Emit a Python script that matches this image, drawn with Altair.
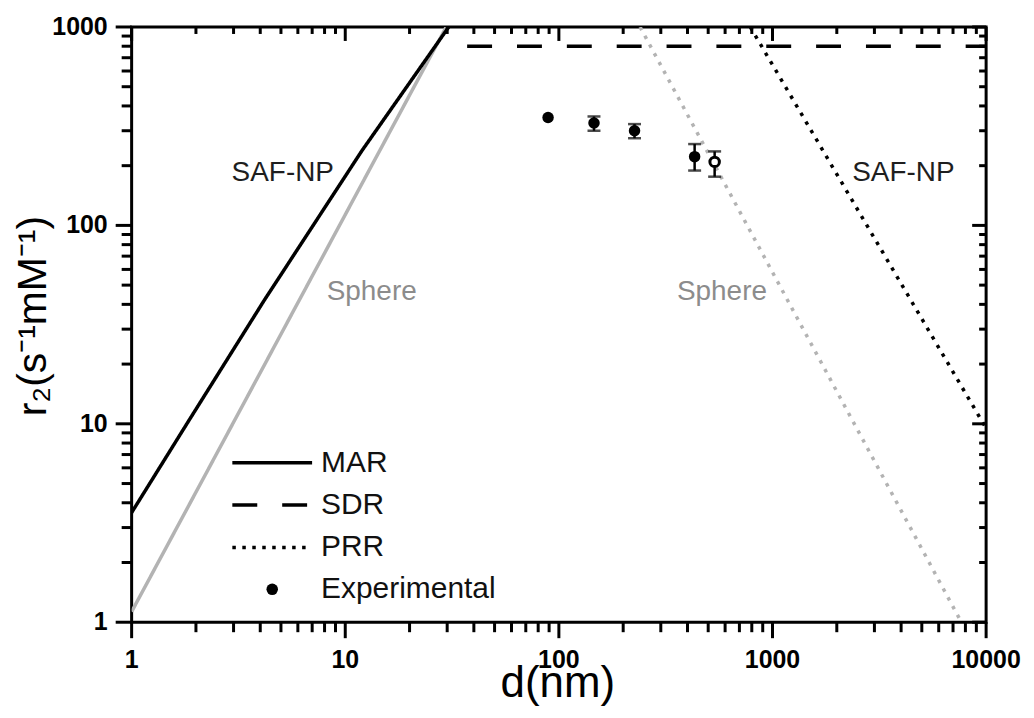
import altair as alt
import pandas as pd

FONT = "Liberation Sans"

# ---- model curves ----
mar_saf_x = [1, 1.865, 4.18, 11.97, 30.5]
mar_saf_y = [3.57, 10.5, 42, 238, 1000]
mar_sph_x = [1, 29.7]
mar_sph_y = [1.13, 1000]
sdr_x = [37.2, 10000]
sdr_y = [800, 800]
prr_sph_x = [240, 7660]
prr_sph_y = [1000, 1]
prr_saf_x = [787, 10000]
prr_saf_y = [1000, 9.5]

# ---- experimental points ----
exp_x = [89, 146, 226, 432]
exp_y = [350, 328, 300, 222]
exp_lo = [350, 300, 275, 189]
exp_hi = [350, 354, 324, 257]
open_x = [536]
open_y = [209]
open_lo = [176]
open_hi = [236]

# ---- annotations ----
ann_text = ["SAF-NP", "Sphere", "Sphere", "SAF-NP"]
ann_x = [5.1, 13.3, 580, 4100]
ann_y = [168, 42, 42, 168]
ann_tone = ["dark", "light", "light", "dark"]

# ---- axis ticks and labels ----
x_major = [1, 10, 100, 1000, 10000]
x_labels = ["1", "10", "100", "1000", "10000"]
y_major = [1, 10, 100, 1000]
y_labels = ["1", "10", "100", "1000"]
x_minor = [m * 10 ** k for k in range(4) for m in range(2, 10)]
y_minor = [m * 10 ** k for k in range(3) for m in range(2, 10)]
x_title = "d(nm)"
y_title = "r₂(s⁻¹mM⁻¹)"

models = ["MAR", "SDR", "PRR"]
dashes = [[1, 0], [25, 25], [3.5, 6.5]]

W, H = 857, 597
X_DEC, Y_DEC = 4, 3
X_MIN, X_MAX, Y_MIN, Y_MAX = 1, 10000, 1, 1000

rows = []
for name, model, tone, xs_, ys_ in [
    ("mar_sph", "MAR", "light", mar_sph_x, mar_sph_y),
    ("mar_saf", "MAR", "dark", mar_saf_x, mar_saf_y),
    ("sdr", "SDR", "dark", sdr_x, sdr_y),
    ("prr_sph", "PRR", "light", prr_sph_x, prr_sph_y),
    ("prr_saf", "PRR", "dark", prr_saf_x, prr_saf_y),
]:
    for i, (xv, yv) in enumerate(zip(xs_, ys_)):
        rows.append({"series": name, "model": model, "tone": tone, "x": xv, "y": yv, "o": i})
lines_df = pd.DataFrame(rows)

err_df = pd.DataFrame({
    "x": exp_x + open_x,
    "y": exp_y + open_y,
    "lo": exp_lo + open_lo,
    "hi": exp_hi + open_hi,
})
pts_df = pd.DataFrame({"x": exp_x, "y": exp_y, "src": ["Experimental"] * len(exp_x)})
open_df = pd.DataFrame({"x": open_x, "y": open_y})
ann_df = pd.DataFrame({"t": ann_text, "x": ann_x, "y": ann_y, "tone": ann_tone})

# all frame ticks in one table: each row is a short segment from the frame edge
tick_rows = []
for vals, edge, px in [(x_major, Y_MIN, 16), (x_minor, Y_MIN, 10), (x_major, Y_MAX, 14), (x_minor, Y_MAX, 7)]:
    f = 10 ** (px * Y_DEC / H)
    for v in vals:
        tick_rows.append({"tx": v, "tx2": v, "ty": edge, "ty2": edge / f})
for vals, edge, px in [(y_major, X_MIN, 16), (y_minor, X_MIN, 10), (y_major, X_MAX, 14), (y_minor, X_MAX, 7)]:
    f = 10 ** (px * X_DEC / W)
    for v in vals:
        tick_rows.append({"tx": edge, "tx2": edge / f, "ty": v, "ty2": v})
ticks_df = pd.DataFrame(tick_rows)

xs = alt.Scale(type="log", domain=[X_MIN, X_MAX], nice=False)
ys = alt.Scale(type="log", domain=[Y_MIN, Y_MAX], nice=False)


def X(field):
    return alt.X(field, type="quantitative", scale=xs, axis=None)


def Y(field):
    return alt.Y(field, type="quantitative", scale=ys, axis=None)


lines = alt.Chart(lines_df).mark_line(clip=True, strokeWidth=3.5).encode(
    x=X("x"),
    y=Y("y"),
    detail="series:N",
    order="o:Q",
    color=alt.Color("tone:N", scale=alt.Scale(domain=["dark", "light"], range=["#000000", "#b3b3b3"]), legend=None),
    strokeDash=alt.StrokeDash("model:N", scale=alt.Scale(domain=models, range=dashes),
                              legend=alt.Legend(orient="none", legendX=99, legendY=421, title=None,
                                                symbolType="stroke", symbolSize=6400,
                                                symbolStrokeWidth=3.5, symbolStrokeColor="black",
                                                clipHeight=32, rowPadding=10.5, labelFont=FONT,
                                                labelFontSize=30, labelColor="#111111",
                                                labelOffset=7, labelLimit=0, padding=0)),
)

ticks = alt.Chart(ticks_df).mark_rule(color="black", strokeWidth=3, strokeCap="butt").encode(
    x=X("tx"), x2="tx2:Q", y=Y("ty"), y2="ty2:Q")

x_lab = alt.Chart(pd.DataFrame({"x": x_major, "t": x_labels})).mark_text(
    font=FONT, fontSize=25, fontWeight="bold", color="black", align="center",
    baseline="alphabetic").encode(x=X("x"), y=alt.value(H + 46), text="t:N")
y_lab = alt.Chart(pd.DataFrame({"y": y_major, "t": y_labels})).mark_text(
    font=FONT, fontSize=25, fontWeight="bold", color="black", align="right",
    baseline="middle").encode(y=Y("y"), x=alt.value(-24), text="t:N")
x_tit = alt.Chart(pd.DataFrame({"t": [x_title]})).mark_text(
    font=FONT, fontSize=44, color="black", align="center", baseline="alphabetic").encode(
    x=alt.value(W / 2 - 1), y=alt.value(H + 75), text="t:N")
y_tit = alt.Chart(pd.DataFrame({"t": [y_title]})).mark_text(
    font=FONT, fontSize=41, color="black", align="center", baseline="alphabetic", angle=270).encode(
    x=alt.value(-86), y=alt.value(290), text="t:N")

err_base = alt.Chart(err_df).transform_filter("datum.lo < datum.hi")
err_rule = err_base.mark_rule(color="black", strokeWidth=2.5).encode(
    x=X("x"), y=Y("lo"), y2="hi:Q",
)
cap_lo = err_base.mark_tick(color="black", orient="horizontal", size=13, thickness=2.5).encode(
    x=X("x"), y=Y("lo"),
)
cap_hi = err_base.mark_tick(color="black", orient="horizontal", size=13, thickness=2.5).encode(
    x=X("x"), y=Y("hi"),
)

pts = alt.Chart(pts_df).mark_point(filled=True, color="black", size=133, opacity=1).encode(
    x=X("x"), y=Y("y"),
    shape=alt.Shape("src:N", scale=alt.Scale(domain=["Experimental"], range=["circle"]),
                    legend=alt.Legend(orient="none", legendX=126, legendY=548, title=None,
                                      symbolType="circle", symbolSize=133,
                                      symbolFillColor="black", symbolStrokeColor="black",
                                      symbolStrokeWidth=0, clipHeight=32, labelFont=FONT,
                                      labelFontSize=30, labelColor="#111111",
                                      labelOffset=34, labelLimit=0, padding=0)),
)
open_pt = alt.Chart(open_df).mark_point(shape="circle", filled=False, fill="white", fillOpacity=1,
                                        stroke="black", strokeWidth=3, size=90, opacity=1).encode(
    x=X("x"), y=Y("y"),
)

ann_dark = alt.Chart(ann_df).transform_filter("datum.tone == 'dark'").mark_text(
    font=FONT, fontSize=28, color="#1e1e1e", baseline="alphabetic", align="center").encode(
    x=X("x"), y=Y("y"), text="t:N")
ann_light = alt.Chart(ann_df).transform_filter("datum.tone == 'light'").mark_text(
    font=FONT, fontSize=28, color="#8c8c8c", baseline="alphabetic", align="center").encode(
    x=X("x"), y=Y("y"), text="t:N")

chart = alt.layer(lines, x_lab, y_lab, x_tit, y_tit, err_rule, cap_lo, cap_hi,
                  pts, open_pt, ann_dark, ann_light, ticks).properties(
    width=W, height=H,
    autosize=alt.AutoSizeParams(type="none"),
    padding={"left": 124, "top": 18, "right": 40, "bottom": 90},
    background="white",
).configure_view(stroke="black", strokeWidth=3)

chart.save("out.html", embed_options={"renderer": "svg", "actions": False})
